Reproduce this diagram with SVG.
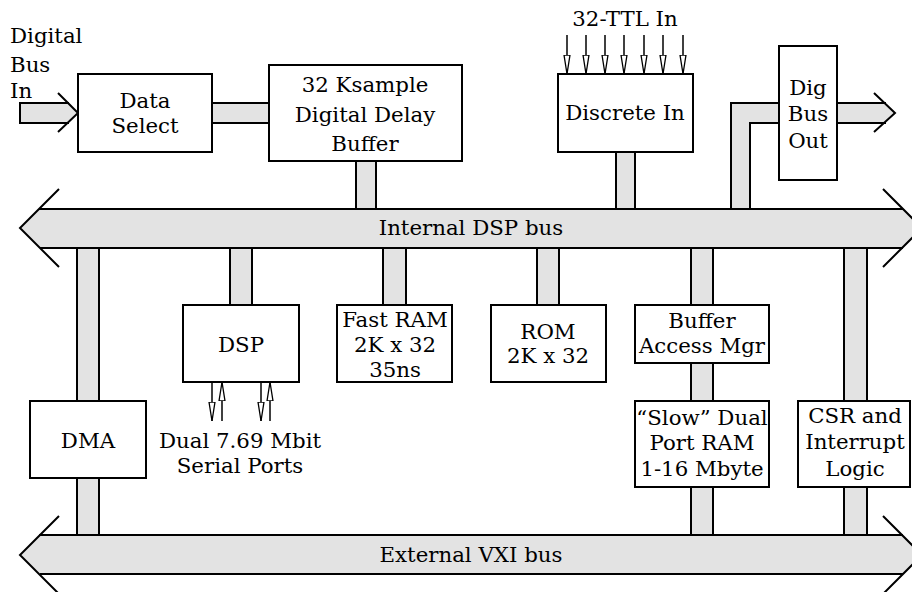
<svg xmlns="http://www.w3.org/2000/svg" width="912" height="592" viewBox="0 0 912 592">
<style>
  .box { fill: #fff; stroke: #000; stroke-width: 2; }
  .bar { fill: #e3e3e3; stroke: none; }
  .edge { fill: none; stroke: #000; stroke-width: 2; }
  .sig { fill: none; stroke: #000; stroke-width: 1.5; }
  text { font-family: "DejaVu Serif", "Liberation Serif", serif; font-size: 21.3px; fill: #000; text-anchor: middle; }
  .lt { text-anchor: start; }
</style>
<defs>
  <marker id="ah" viewBox="0 0 20 8" refX="19" refY="4" markerWidth="20" markerHeight="8" markerUnits="userSpaceOnUse" orient="auto">
    <path d="M0,1 L0,7 L19,4 Z" fill="#fff" stroke="#000" stroke-width="1.3"/>
  </marker>
</defs>
<rect width="912" height="592" fill="#fff"/>

<g id="connectors">
  <!-- Digital Bus In arrow -->
  <path class="bar" d="M20,103 H68 L78,113 L68,123 H20 Z"/>
  <path class="edge" d="M69,103 H20 V123 H69 M58,93 L78,113 L58,132"/>
  <!-- Data Select to Delay Buffer -->
  <rect class="bar" x="212" y="103" width="57" height="20"/>
  <path class="edge" d="M212,103 H269 M212,123 H269"/>
  <!-- Delay buffer to internal bus -->
  <rect class="bar" x="356" y="161" width="20" height="48"/>
  <path class="edge" d="M356,161 V209 M376,161 V209"/>
  <!-- Discrete In to internal bus -->
  <rect class="bar" x="616" y="152" width="19" height="57"/>
  <path class="edge" d="M616,152 V209 M635,152 V209"/>
  <!-- Bus to Dig Bus Out -->
  <path class="bar" d="M731,209 V103 H779 V123 H750 V209 Z"/>
  <path class="edge" d="M731,209 V103 H779 M779,123 H750 V209"/>
  <!-- Dig Bus Out arrow -->
  <path class="bar" d="M837,103 H885 L895,113 L885,123 H837 Z"/>
  <path class="edge" d="M837,103 H886 M837,123 H886 M874,93 L895,113 L874,132"/>
  <!-- TTL inputs -->
  <g class="sig" marker-end="url(#ah)">
    <path d="M567,35 V74"/>
    <path d="M586,35 V74"/>
    <path d="M605,35 V74"/>
    <path d="M624,35 V74"/>
    <path d="M644,35 V74"/>
    <path d="M663,35 V74"/>
    <path d="M683,35 V74"/>
  </g>
  <!-- Serial ports -->
  <g class="sig">
    <path d="M212,382 V421" marker-end="url(#ah)"/>
    <path d="M222,421 V382" marker-end="url(#ah)"/>
    <path d="M261,382 V421" marker-end="url(#ah)"/>
    <path d="M270,421 V382" marker-end="url(#ah)"/>
  </g>
  <!-- Internal bus drops -->
  <rect class="bar" x="77" y="248" width="22" height="153"/>
  <path class="edge" d="M77,248 V401 M99,248 V401"/>
  <rect class="bar" x="77" y="478" width="22" height="57"/>
  <path class="edge" d="M77,478 V535 M99,478 V535"/>
  <rect class="bar" x="230" y="248" width="22" height="57"/>
  <path class="edge" d="M230,248 V305 M252,248 V305"/>
  <rect class="bar" x="383" y="248" width="23" height="57"/>
  <path class="edge" d="M383,248 V305 M406,248 V305"/>
  <rect class="bar" x="537" y="248" width="22" height="57"/>
  <path class="edge" d="M537,248 V305 M559,248 V305"/>
  <rect class="bar" x="691" y="248" width="22" height="57"/>
  <path class="edge" d="M691,248 V305 M713,248 V305"/>
  <rect class="bar" x="691" y="363" width="22" height="38"/>
  <path class="edge" d="M691,363 V401 M713,363 V401"/>
  <rect class="bar" x="691" y="487" width="22" height="48"/>
  <path class="edge" d="M691,487 V535 M713,487 V535"/>
  <rect class="bar" x="844" y="248" width="23" height="153"/>
  <path class="edge" d="M844,248 V401 M867,248 V401"/>
  <rect class="bar" x="844" y="487" width="23" height="48"/>
  <path class="edge" d="M844,487 V535 M867,487 V535"/>
</g>

<g id="internal-bus">
  <path class="bar" d="M39,209 H903 L922,228 L903,248 H40 L20,228 Z"/>
  <path class="edge" d="M39,209 H903 M40,248 H903 M59,189 L20,228 L59,267 M883,189 L922,228 L883,267"/>
  <text x="471" y="235">Internal DSP bus</text>
</g>

<g id="external-bus">
  <path class="bar" d="M39,535 H903 L922,555 L903,574 H40 L20,555 Z"/>
  <path class="edge" d="M39,535 H903 M40,574 H903 M59,516 L20,555 L59,594 M883,516 L922,555 L883,594"/>
  <text x="471" y="562">External VXI bus</text>
</g>

<g id="digital-bus-in">
  <text class="lt" x="10" y="43">Digital</text>
  <text class="lt" x="10" y="72">Bus</text>
  <text class="lt" x="10" y="98">In</text>
</g>

<g id="data-select">
  <rect class="box" x="78" y="74" width="134" height="78"/>
  <text x="145" y="108">Data</text>
  <text x="145" y="133">Select</text>
</g>

<g id="delay-buffer">
  <rect class="box" x="269" y="65" width="193" height="96"/>
  <text x="365" y="92">32 Ksample</text>
  <text x="365" y="122">Digital Delay</text>
  <text x="365" y="151">Buffer</text>
</g>

<g id="discrete-in">
  <text x="625" y="26">32-TTL In</text>
  <rect class="box" x="558" y="74" width="135" height="78"/>
  <text x="625" y="120">Discrete In</text>
</g>

<g id="dig-bus-out">
  <rect class="box" x="779" y="46" width="58" height="134"/>
  <text x="808" y="95">Dig</text>
  <text x="808" y="121">Bus</text>
  <text x="808" y="148">Out</text>
</g>

<g id="dma">
  <rect class="box" x="30" y="401" width="116" height="77"/>
  <text x="88" y="448">DMA</text>
</g>

<g id="dsp">
  <rect class="box" x="183" y="305" width="116" height="77"/>
  <text x="241" y="352">DSP</text>
  <text x="240" y="448">Dual 7.69 Mbit</text>
  <text x="240" y="473">Serial Ports</text>
</g>

<g id="fast-ram">
  <rect class="box" x="337" y="305" width="115" height="77"/>
  <text x="395" y="327">Fast RAM</text>
  <text x="395" y="352">2K x 32</text>
  <text x="395" y="377">35ns</text>
</g>

<g id="rom">
  <rect class="box" x="491" y="305" width="115" height="77"/>
  <text x="548" y="339">ROM</text>
  <text x="548" y="363">2K x 32</text>
</g>

<g id="buffer-access-mgr">
  <rect class="box" x="635" y="305" width="134" height="58"/>
  <text x="702" y="328">Buffer</text>
  <text x="702" y="353">Access Mgr</text>
</g>

<g id="dual-port-ram">
  <rect class="box" x="635" y="401" width="134" height="86"/>
  <text x="702" y="425">“Slow” Dual</text>
  <text x="702" y="450">Port RAM</text>
  <text x="702" y="476">1-16 Mbyte</text>
</g>

<g id="csr">
  <rect class="box" x="798" y="401" width="112" height="86"/>
  <text x="855" y="423">CSR and</text>
  <text x="855" y="449">Interrupt</text>
  <text x="855" y="476">Logic</text>
</g>
</svg>
